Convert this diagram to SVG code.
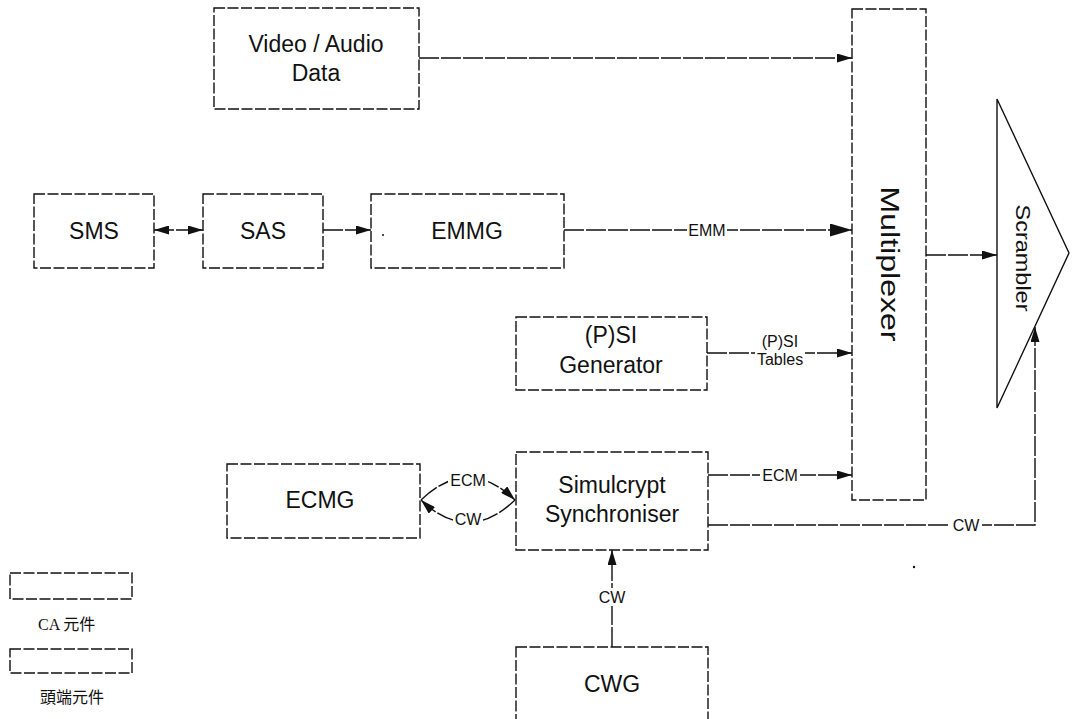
<svg xmlns="http://www.w3.org/2000/svg" width="1077" height="719" viewBox="0 0 1077 719">
  <style>
    .box { fill: #fff; stroke: #111; stroke-width: 1.4; stroke-dasharray: 11 2.5; }
    .tri { fill: #fff; stroke: #111; stroke-width: 1.4; }
    .line { fill: none; stroke: #111; stroke-width: 1.4; stroke-dasharray: 20 2; }
    .bg { fill: #fff; }
    .lbl { font-family: "Liberation Sans", Arial, sans-serif; font-size: 23px; fill: #111; text-anchor: middle; }
    .sm { font-family: "Liberation Sans", Arial, sans-serif; font-size: 16px; fill: #111; text-anchor: middle; }
    .leg { font-family: "Liberation Serif", "Noto Sans CJK TC", serif; font-size: 16px; fill: #111; }
  </style>
  <defs>
    <marker id="arr" viewBox="0 0 15 9" refX="15" refY="4.5" markerWidth="15" markerHeight="9" markerUnits="userSpaceOnUse" orient="auto-start-reverse">
      <path d="M0,0 L15,4.5 L0,9 z" fill="#111"/>
    </marker>
    <marker id="arrBig" viewBox="0 0 22 13" refX="22" refY="6.5" markerWidth="22" markerHeight="13" markerUnits="userSpaceOnUse" orient="auto">
      <path d="M0,0 L22,6.5 L0,13 z" fill="#111"/>
    </marker>
  </defs>

  <rect width="1077" height="719" fill="#fff"/>

  <!-- connectors, with their labels on white patches that break the line -->
  <g id="connectors">
    <path class="line" d="M419,58 H852" marker-end="url(#arr)"/>
    <path class="line" d="M154,230 H203" marker-start="url(#arr)" marker-end="url(#arr)"/>
    <path class="line" d="M323,230 H371" marker-end="url(#arr)"/>
    <path class="line" d="M564,230 H852" marker-end="url(#arrBig)"/>
    <path class="line" d="M707,353 H852" marker-end="url(#arr)"/>
    <path class="line" d="M708,475 H852" marker-end="url(#arr)"/>
    <path class="line" d="M926,255 H997" marker-end="url(#arr)"/>
    <path class="line" d="M708,525 H1035 V327" marker-end="url(#arr)"/>
    <path class="line" d="M612,647 V550" marker-end="url(#arr)"/>
    <path class="line" d="M421,500 Q468,455 515,500" marker-end="url(#arr)"/>
    <path class="line" d="M515,500 Q468,545 421,500" marker-end="url(#arr)"/>

    <rect class="bg" x="687" y="223" width="40" height="16"/>
    <text class="sm" x="707" y="236">EMM</text>
    <rect class="bg" x="755" y="334" width="50" height="34"/>
    <text class="sm" x="780" y="347">(P)SI</text>
    <text class="sm" x="780" y="365">Tables</text>
    <rect class="bg" x="760" y="467" width="40" height="16"/>
    <text class="sm" x="780" y="481">ECM</text>
    <rect class="bg" x="950" y="517" width="32" height="16"/>
    <text class="sm" x="966" y="531">CW</text>
    <rect class="bg" x="598" y="588" width="28" height="18"/>
    <text class="sm" x="612" y="603">CW</text>
    <rect class="bg" x="448" y="472" width="40" height="16"/>
    <text class="sm" x="468" y="486">ECM</text>
    <rect class="bg" x="453" y="511" width="30" height="16"/>
    <text class="sm" x="468" y="525">CW</text>
  </g>

  <g id="video-audio">
    <rect class="box" x="214" y="8" width="205" height="101"/>
    <text class="lbl" x="316" y="52">Video / Audio</text>
    <text class="lbl" x="316" y="81">Data</text>
  </g>

  <g id="multiplexer">
    <rect class="box" x="852" y="9" width="74" height="491"/>
    <text class="lbl" transform="translate(881,264) rotate(90)" style="font-size:25px" textLength="155" lengthAdjust="spacingAndGlyphs">Multiplexer</text>
  </g>

  <g id="scrambler">
    <polygon class="tri" points="997,99 1069,253 997,408"/>
    <text class="lbl" transform="translate(1016,258) rotate(90)" style="font-size:21px" textLength="107" lengthAdjust="spacingAndGlyphs">Scrambler</text>
  </g>

  <g id="sms">
    <rect class="box" x="34" y="194" width="120" height="74"/>
    <text class="lbl" x="94" y="239">SMS</text>
  </g>

  <g id="sas">
    <rect class="box" x="203" y="194" width="120" height="74"/>
    <text class="lbl" x="263" y="239">SAS</text>
  </g>

  <g id="emmg">
    <rect class="box" x="371" y="194" width="193" height="74"/>
    <text class="lbl" x="467" y="239">EMMG</text>
    <circle cx="383" cy="235" r="1" fill="#111"/>
  </g>

  <g id="psi-generator">
    <rect class="box" x="516" y="317" width="191" height="73"/>
    <text class="lbl" x="611" y="343">(P)SI</text>
    <text class="lbl" x="611" y="373">Generator</text>
  </g>

  <g id="ecmg">
    <rect class="box" x="227" y="464" width="193" height="74"/>
    <text class="lbl" x="320" y="508">ECMG</text>
  </g>

  <g id="simulcrypt-synchroniser">
    <rect class="box" x="516" y="452" width="192" height="98"/>
    <text class="lbl" x="612" y="493">Simulcrypt</text>
    <text class="lbl" x="612" y="522">Synchroniser</text>
  </g>

  <g id="cwg">
    <rect class="box" x="516" y="647" width="192" height="90"/>
    <text class="lbl" x="612" y="692">CWG</text>
  </g>

  <circle cx="914" cy="567" r="1.2" fill="#111"/>

  <g id="legend">
    <rect class="box" x="10" y="573" width="122" height="26"/>
    <text class="leg" x="38" y="630">CA 元件</text>
    <rect class="box" x="10" y="649" width="122" height="24"/>
    <text class="leg" x="40" y="703">頭端元件</text>
  </g>
</svg>
